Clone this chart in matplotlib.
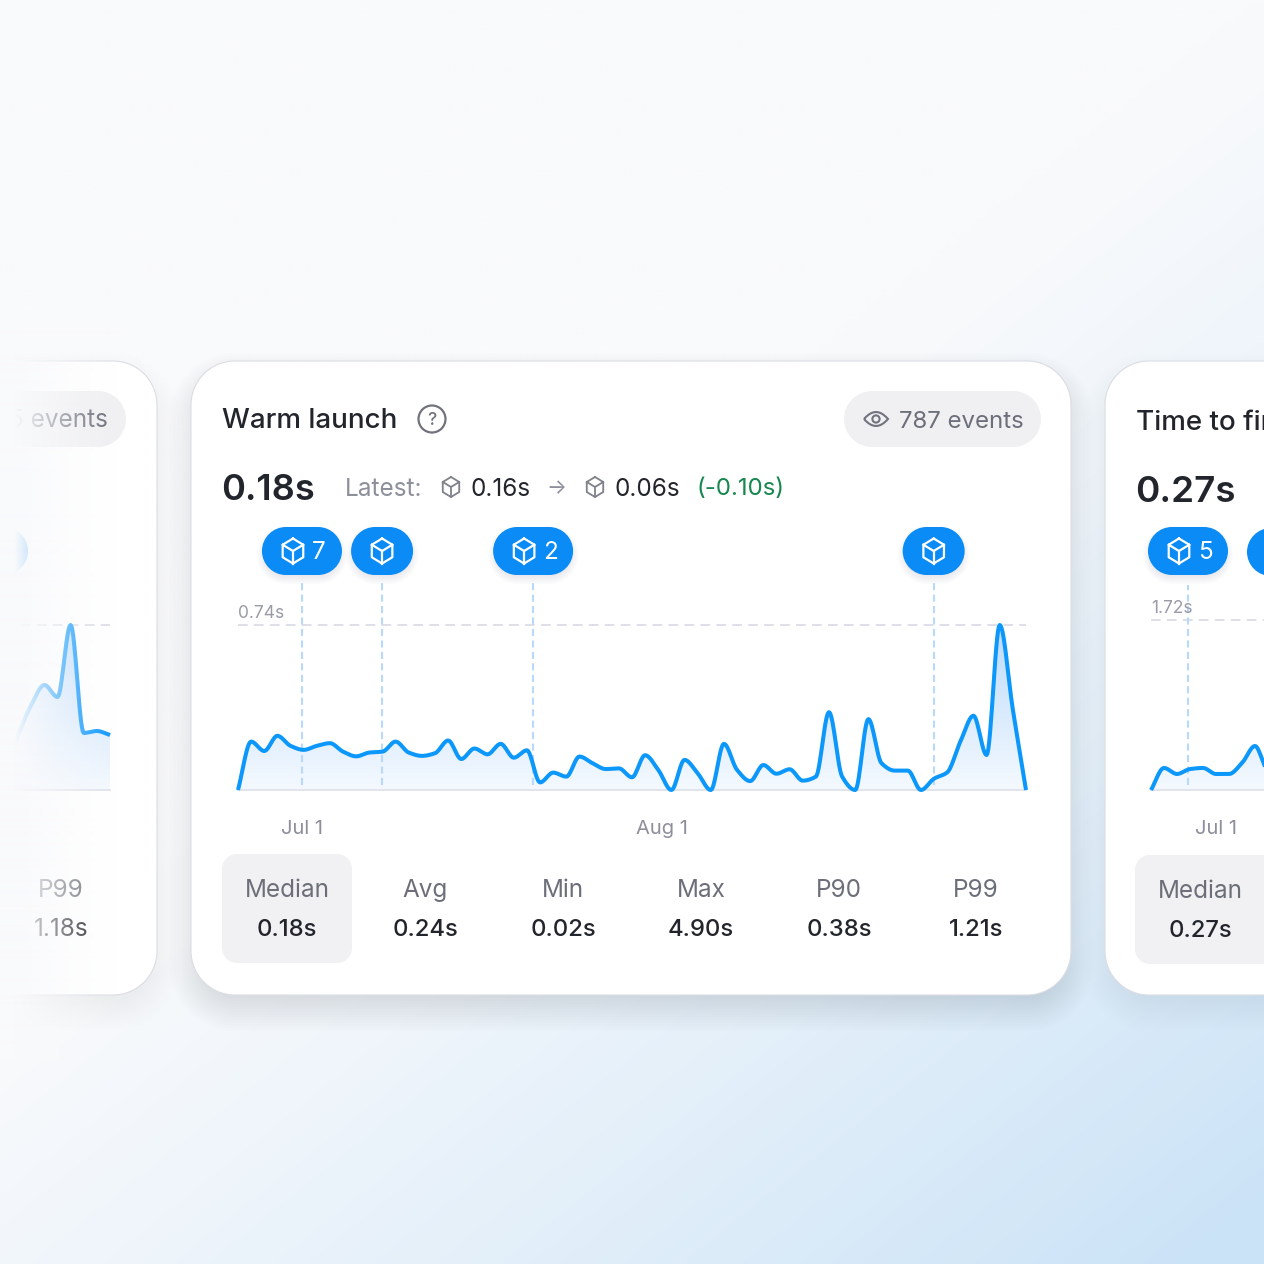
import numpy as np
import matplotlib
matplotlib.use('Agg')
import matplotlib.pyplot as plt
from matplotlib.patches import Circle, PathPatch, Polygon
from matplotlib.path import Path

plt.rcParams['font.family'] = ['Inter', 'DejaVu Sans']

SIZE = 1264

# values in seconds, one per point on the x axis
warm_values = [0.000, 0.217, 0.175, 0.243, 0.198, 0.180, 0.198, 0.210, 0.172, 0.151,
               0.168, 0.172, 0.217, 0.168, 0.153, 0.165, 0.222, 0.139, 0.186, 0.160,
               0.207, 0.145, 0.178, 0.034, 0.078, 0.060, 0.150, 0.120, 0.094, 0.097,
               0.057, 0.156, 0.090, 0.000, 0.135, 0.075, 0.000, 0.207, 0.090, 0.040,
               0.112, 0.073, 0.093, 0.042, 0.060, 0.349, 0.060, 0.000, 0.318, 0.120,
               0.087, 0.087, 0.000, 0.051, 0.079, 0.217, 0.333, 0.157, 0.740, 0.360,
               0.000]
warm_peak = 0.74
warm_releases = [4.87, 10.97, 22.47, 52.97]
warm_release_counts = ['7', '', '2', '']
warm_ticks = [4.87, 32.3]
warm_tick_labels = ['Jul 1', 'Aug 1']
warm_stat_names = ['Median', 'Avg', 'Min', 'Max', 'P90', 'P99']
warm_stat_values = ['0.18s', '0.24s', '0.02s', '4.90s', '0.38s', '1.21s']

left_values = [0.143, 0.393, 0.608, 0.751, 0.665, 1.18, 0.408, 0.422, 0.393]
left_peak = 1.18

right_values = [0.000, 0.223, 0.162, 0.212, 0.223, 0.162, 0.162, 0.273, 0.445, 0.200, 0.180]
right_peak = 1.72
right_releases = [2.85]
right_ticks = [5.0]
right_tick_labels = ['Jul 1']

BLUE = '#0b8bf5'
LINE = '#0c97fb'
INK = '#22252b'
GREY = '#8d8f9a'
DARKGREY = '#6c6f79'

fig = plt.figure(figsize=(SIZE / 100, SIZE / 100), dpi=100)
ui = fig.add_axes([0, 0, 1, 1], zorder=0)
ui.set_xlim(0, SIZE)
ui.set_ylim(SIZE, 0)
ui.axis('off')

# page background
yy, xx = np.mgrid[0:1:200j, 0:1:200j]
t = np.clip((0.62 * xx + 0.78 * yy - 0.62) / 0.75, 0, 1) ** 1.2
c0 = np.array([0xf9, 0xfa, 0xfc]) / 255
c1 = np.array([0xcb, 0xe3, 0xf7]) / 255
bg_img = c0[None, None, :] * (1 - t[..., None]) + c1[None, None, :] * t[..., None]
ui.imshow(bg_img, extent=[0, SIZE, SIZE, 0], aspect='auto', zorder=0, interpolation='bilinear')
ui.set_xlim(0, SIZE)
ui.set_ylim(SIZE, 0)


def rrect(x0, y0, x1, y1, r, fc, ec='none', lw=0, z=1, alpha=None):
    # real circular corners, FancyBboxPatch's round style comes out too square
    k = r * (1 - 0.5523)
    verts = [(x0 + r, y0), (x1 - r, y0), (x1 - k, y0), (x1, y0 + k), (x1, y0 + r),
             (x1, y1 - r), (x1, y1 - k), (x1 - k, y1), (x1 - r, y1),
             (x0 + r, y1), (x0 + k, y1), (x0, y1 - k), (x0, y1 - r),
             (x0, y0 + r), (x0, y0 + k), (x0 + k, y0), (x0 + r, y0), (x0 + r, y0)]
    C = Path.CURVE4
    L = Path.LINETO
    codes = [Path.MOVETO, L, C, C, C, L, C, C, C, L, C, C, C, L, C, C, C, Path.CLOSEPOLY]
    p = PathPatch(Path(verts, codes), fc=fc, ec=ec, lw=lw, zorder=z, alpha=alpha)
    ui.add_patch(p)
    return p


def shadow(x0, y0, x1, y1, r, dy, spread, alpha, z, steps=16):
    for i in range(steps):
        g = spread * (1 - 2 * i / steps)
        rrect(x0 - g, y0 - g + dy, x1 + g, y1 + g + dy, max(r + g, 1), '#55678a', z=z, alpha=alpha / steps)


def card(x0, x1, z, strength):
    shadow(x0, 361, x1, 995, 44, 14, 22, strength, z)
    rrect(x0, 361, x1, 995, 44, 'white', ec='#dcdde4', lw=0.8, z=z + 0.1)


def cube(cx, cy, r, color, lw, z=6):
    # little box icon for a release
    a = np.radians([90, 30, -30, -90, -150, 150, 90])
    hx = cx + r * np.cos(a) * 0.95
    hy = cy - r * np.sin(a)
    ui.plot(hx, hy, color=color, lw=lw, zorder=z, solid_joinstyle='round')
    ui.plot([hx[1], cx, hx[5]], [hy[1], cy, hy[5]], color=color, lw=lw, zorder=z, solid_joinstyle='round')
    ui.plot([cx, cx], [cy, hy[3]], color=color, lw=lw, zorder=z)


def txt(x, y, s, size, color=INK, ha='left', weight='normal', z=6):
    return ui.text(x, y, s, fontsize=size, color=color, ha=ha, va='baseline', weight=weight, zorder=z)


def pill(cx, label, z=7, half=None):
    half = half if half else (40 if label else 31)
    shadow(cx - half, 527, cx + half, 575, 24, 4, 5, 0.14, z - 0.5, steps=6)
    rrect(cx - half, 527, cx + half, 575, 24, BLUE, z=z)
    if label:
        cube(cx - 9, 551, 12.5, 'white', 1.6, z=z + 1)
        txt(cx + 17, 559, label, 17.5, 'white', ha='center', z=z + 1)
    else:
        cube(cx, 551, 12.5, 'white', 1.6, z=z + 1)


def smooth(y):
    # monotone cubic through the points, the way the chart draws its curve
    y = np.asarray(y, dtype=float)
    x = np.arange(len(y), dtype=float)
    s = np.diff(y)
    m = np.zeros(len(y))
    for i in range(1, len(y) - 1):
        if s[i - 1] * s[i] > 0:
            m[i] = 2 * s[i - 1] * s[i] / (s[i - 1] + s[i])
    m[0] = s[0]
    m[-1] = s[-1]
    xs, ys = [], []
    for i in range(len(y) - 1):
        u = np.linspace(0, 1, 16)
        h00 = 2 * u**3 - 3 * u**2 + 1
        h10 = u**3 - 2 * u**2 + u
        h01 = -2 * u**3 + 3 * u**2
        h11 = u**3 - u**2
        xs.append(x[i] + u)
        ys.append(h00 * y[i] + h10 * m[i] + h01 * y[i + 1] + h11 * m[i + 1])
    return np.concatenate(xs), np.concatenate(ys)


def chart(x0, x1, base, top, peak, values, releases=(), ticks=(), tick_labels=(),
          peak_label=None, z=3, release_top=583):
    w = x1 - x0
    h = base - top
    ax = fig.add_axes([x0 / SIZE, 1 - base / SIZE, w / SIZE, h / SIZE], zorder=z)
    ax.patch.set_alpha(0)
    for s in ax.spines.values():
        s.set_visible(False)
    ax.set_yticks([])
    n = len(values) - 1
    sx, sy = smooth(values)

    grad = np.linspace(0, 1, 100)[:, None]
    ctop = np.array([0xbc, 0xdb, 0xfb]) / 255
    cbot = np.array([0xf4, 0xf9, 0xff]) / 255
    g = ctop[None, None, :] * (1 - grad[..., None]) + cbot[None, None, :] * grad[..., None]
    im = ax.imshow(g, extent=[0, n, 0, peak], aspect='auto', zorder=1)
    poly = Polygon(np.column_stack([np.r_[sx, n, 0], np.r_[sy, 0, 0]]), closed=True, transform=ax.transData)
    im.set_clip_path(poly)

    ax.set_xlim(0, n)
    ax.set_ylim(0, peak)
    ax.axhline(0, color='#e2e4ec', lw=1.4, zorder=2, clip_on=False)
    ax.plot([0, n], [peak, peak], color='#dfe0e7', lw=1.4, dashes=(5, 3.2), zorder=2, clip_on=False)
    per_px = peak / h
    for r in releases:
        ax.plot([r, r], [5 * per_px, (base - release_top) * per_px], color='#b7d9fb', lw=1.5,
                dashes=(3.4, 2.1), zorder=2, clip_on=False)
    ax.plot(sx, sy, color=LINE, lw=2.9, zorder=3, clip_on=False, solid_joinstyle='round', solid_capstyle='butt')
    ax.set_xticks(ticks)
    ax.set_xticklabels(tick_labels, fontsize=14.5, color=GREY)
    ax.tick_params(axis='x', length=0, pad=21.3)
    if peak_label:
        ax.annotate(peak_label, (0, peak), xytext=(0, 2.5), textcoords='offset points',
                    fontsize=12.5, color='#9a9ca6', ha='left', va='bottom', annotation_clip=False)
    return ax


# left card, mostly faded out
card(-200, 157, 1, 0.05)
rrect(-40, 391, 126, 447, 28, '#f0f0f3', z=2)
txt(107.5, 427, '5 events', 17.5, DARKGREY, ha='right', z=3)
rrect(-30, 527, 28, 575, 24, BLUE, z=2)
txt(61, 897, 'P99', 17.5, DARKGREY, ha='center', z=3)
txt(61, 936, '1.18s', 17.5, INK, ha='center', z=3)
chart(5, 110, 790, 625, left_peak, left_values, z=2)

# right card, cut by the edge
card(1105, 1500, 1, 0.05)
txt(1135.5, 430, 'Time to first frame', 20, INK, weight='medium', z=3)
txt(1135, 501.5, '0.27s', 26.5, INK, weight='semibold', z=3)
rrect(1135, 855, 1300, 964, 15, '#f1f1f3', z=2)
txt(1200, 898, 'Median', 17.5, DARKGREY, ha='center', z=3)
txt(1200, 937, '0.27s', 17.2, INK, ha='center', weight='medium', z=3)
chart(1151, 1281, 790, 620, right_peak, right_values, releases=right_releases, ticks=right_ticks,
      tick_labels=right_tick_labels, peak_label='1.72s', z=2, release_top=585)
pill(1188, '5', z=4)
rrect(1247, 528, 1320, 576, 24, BLUE, z=4)

# main card
card(191, 1071, 5, 0.16)
txt(222.5, 428, 'Warm launch', 20, weight='medium')
ui.add_patch(Circle((432, 419), 13.5, fc='none', ec='#71737d', lw=1.6, zorder=6))
txt(432, 425, '?', 12.5, '#71737d', ha='center', weight='medium')

rrect(844, 391, 1041, 447, 28, '#f0f0f3', z=5.5)
eye = Path([(864, 419), (876, 405), (888, 419), (876, 433), (864, 419)],
           [Path.MOVETO, Path.CURVE3, Path.CURVE3, Path.CURVE3, Path.CURVE3])
ui.add_patch(PathPatch(eye, fc='none', ec='#71737d', lw=1.5, zorder=6))
ui.add_patch(Circle((876, 419), 3.6, fc='none', ec='#71737d', lw=1.5, zorder=6))
txt(1023.5, 428, '787 events', 17.3, DARKGREY, ha='right')

txt(221.5, 500.5, '0.18s', 26, weight='semibold')
txt(345, 495.5, 'Latest:', 17.5, GREY)
cube(451, 487, 10, '#7f818b', 1.3)
txt(471, 495.5, '0.16s', 17.5)
txt(556, 494.5, '\u2192', 15, GREY, ha='center')
cube(595, 487, 10, '#7f818b', 1.3)
txt(615, 495.5, '0.06s', 17.5)
txt(696.5, 495.5, '(-0.10s)', 17.3, '#16874f')

rrect(222, 854, 352, 963, 15, '#f1f1f3', z=5.5)
stat_x = [287, 425, 563, 701, 839, 976]
for sx_, name, val in zip(stat_x, warm_stat_names, warm_stat_values):
    txt(sx_, 897, name, 17.5, DARKGREY, ha='center')
    txt(sx_, 936, val, 17.2, INK, ha='center', weight='medium')

main = chart(238, 1026, 790, 625, warm_peak, warm_values, releases=warm_releases, ticks=warm_ticks,
             tick_labels=warm_tick_labels, peak_label='0.74s', z=4)

# pills sit above the chart's dashed guides, keep them in the ui axes
for r, label in zip(warm_releases, warm_release_counts):
    pill(238 + r * (1026 - 238) / (len(warm_values) - 1), label, z=7)

# fade over the left card
over = fig.add_axes([0, 0, 1, 1], zorder=10)
over.axis('off')
over.patch.set_alpha(0)
fade = np.ones((1, 140, 4))
fade[..., :3] = c0
fade[0, :, 3] = np.clip(1 - (np.arange(140) - 15) / 105, 0, 1) ** 1.3
over.imshow(fade, extent=[0, 140, 1060, 330], aspect='auto', interpolation='bilinear')
over.set_xlim(0, SIZE)
over.set_ylim(SIZE, 0)

fig.savefig('out.png', dpi=100)
